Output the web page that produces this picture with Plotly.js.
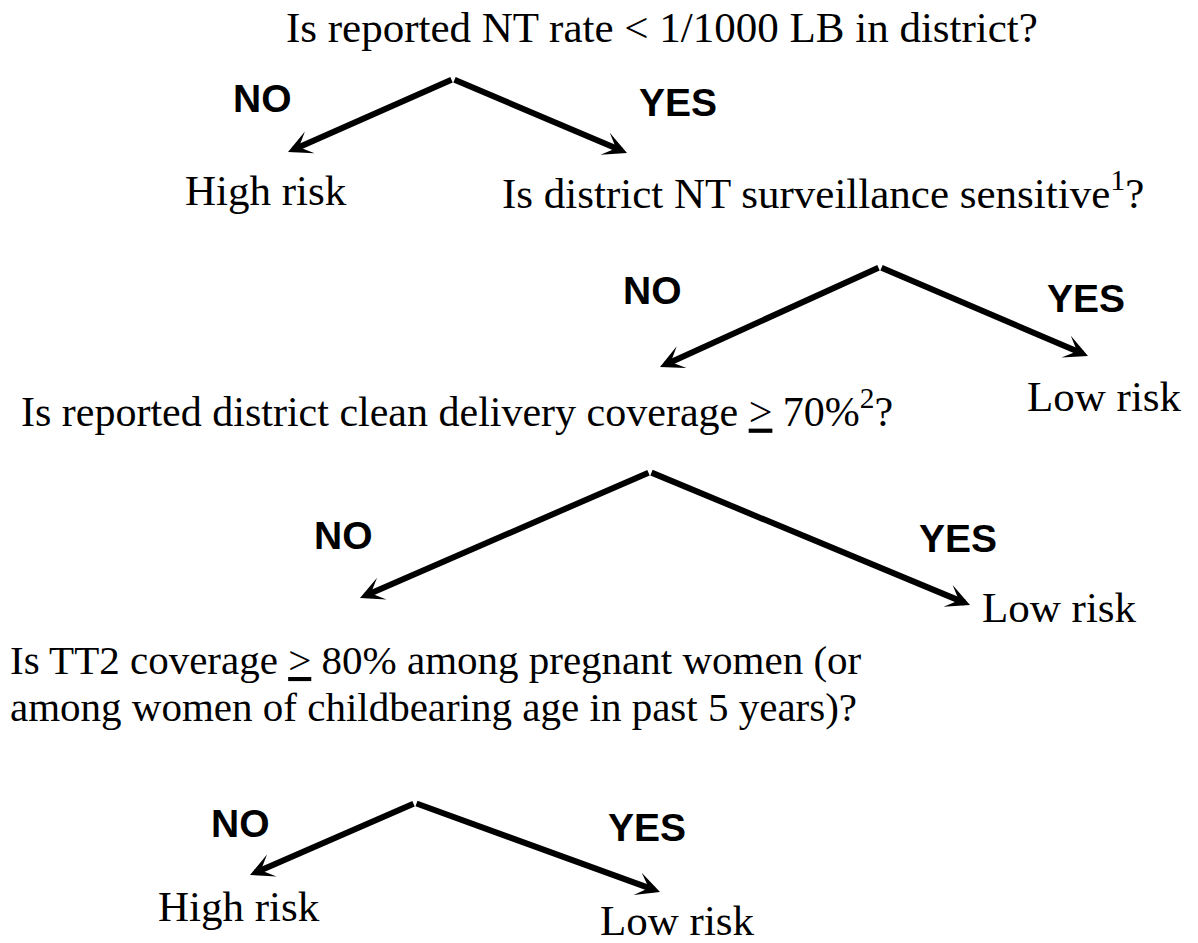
<!DOCTYPE html>
<html>
<head>
<meta charset="utf-8">
<script src="https://cdn.plot.ly/plotly-3.0.1.min.js"></script>
<style>html,body{margin:0;padding:0;background:#fff;}#chart{width:1198px;height:943px;}</style>
</head>
<body>
<div id="chart"></div>
<script>
// Node texts (questions and outcomes)
const nodeTexts = [
  "Is reported NT rate &lt; 1/1000 LB in district?",
  "High risk",
  "Is district NT surveillance sensitive<sup>1</sup>?",
  "Low risk",
  "Is reported district clean delivery coverage <u>&gt;</u> 70%<sup>2</sup>?",
  "Low risk",
  "Is TT2 coverage <u>&gt;</u> 80% among pregnant women (or",
  "among women of childbearing age in past 5 years)?",
  "High risk",
  "Low risk"
];
const nodeX = [662, 266, 823, 1104, 457, 1059, 8, 8, 239, 677];
const nodeY = [27, 190, 190, 396, 408, 607, 660, 707, 906, 920];
const nodeAnchor = ["center","center","center","center","center","center","left","left","center","center"];
const nodeFontSize = [43, 43, 43, 43, 42, 43, 41, 41, 43, 43];

// Branches: from apex to arrow tip, with label
const branchLabels = ["NO","YES","NO","YES","NO","YES","NO","YES"];
const apexX = [453, 453, 880, 880, 650, 650, 415, 415];
const apexY = [79, 79, 267, 267, 472, 472, 803, 803];
const tipX  = [288, 627, 660, 1088, 360, 970, 250, 660];
const tipY  = [152, 153, 367, 356, 598, 605, 875, 892];
const labelX = [262, 678, 652, 1086, 343, 958, 240, 647];
const labelY = [98, 102, 290, 298, 535, 538, 823, 827];

const annotations = [];
nodeTexts.forEach((t, i) => {
  annotations.push({
    x: nodeX[i], y: nodeY[i], xref: 'x', yref: 'y',
    text: t, showarrow: false,
    xanchor: nodeAnchor[i], yanchor: 'middle', align: 'left',
    font: {family: 'Liberation Serif, Times New Roman, serif', size: nodeFontSize[i], color: '#000'}
  });
});
branchLabels.forEach((t, i) => {
  annotations.push({
    x: tipX[i], y: tipY[i], xref: 'x', yref: 'y',
    ax: apexX[i], ay: apexY[i], axref: 'x', ayref: 'y',
    text: '', showarrow: true, arrowhead: 3, arrowsize: 0.66, arrowwidth: 6,
    arrowcolor: '#000', standoff: 0, startstandoff: 0
  });
  annotations.push({
    x: labelX[i], y: labelY[i], xref: 'x', yref: 'y',
    text: '<b>' + t + '</b>', showarrow: false,
    xanchor: 'center', yanchor: 'middle',
    font: {family: 'Liberation Sans, Arial, sans-serif', size: 39, color: '#000'}
  });
});

const layout = {
  width: 1198, height: 943,
  margin: {l: 0, r: 0, t: 0, b: 0},
  paper_bgcolor: '#fff', plot_bgcolor: '#fff',
  showlegend: false,
  xaxis: {range: [0, 1198], visible: false, fixedrange: true},
  yaxis: {range: [943, 0], visible: false, fixedrange: true},
  annotations: annotations
};
Plotly.newPlot('chart', [{x: [], y: [], type: 'scatter', hoverinfo: 'skip'}], layout, {staticPlot: true, displayModeBar: false});
</script>
</body>
</html>
